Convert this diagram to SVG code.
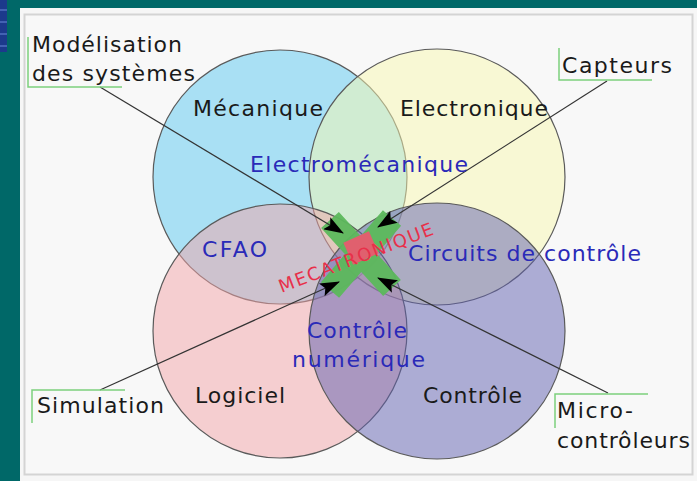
<svg xmlns="http://www.w3.org/2000/svg" width="697" height="481" viewBox="0 0 697 481">
<defs>
<marker id="arr" viewBox="0 0 20 14" refX="19" refY="7" markerWidth="20" markerHeight="14" markerUnits="userSpaceOnUse" orient="auto">
<path d="M0,0 L20,7 L0,14 L4,7 z" fill="#000"/>
</marker>
<style>
.c{stroke:#5a5a5a;stroke-width:1.2;fill-opacity:0.5}
.t{font-family:"DejaVu Sans","Liberation Sans",sans-serif;font-size:22px;fill:#1a1a1a}
.b{fill:#2a2ab8}
.br{fill:none;stroke:#7ccf7c;stroke-width:1.5}
.ln{fill:none;stroke:#333;stroke-width:1.2;marker-end:url(#arr)}
</style>
</defs>
<rect x="0" y="0" width="697" height="481" fill="#006868"/>
<rect x="0" y="0" width="7" height="52" fill="#1c3a8c"/>
<path d="M0,10H7M0,22H7M0,34H7M0,46H7" stroke="#5070c0" stroke-width="1.5"/>
<rect x="20" y="8" width="677" height="473" fill="#f6f6f6"/>
<rect x="24.5" y="14.5" width="668" height="460" fill="#f8f8f8" stroke="#d4d4d4" stroke-width="2"/>

<g id="mecanique"><circle class="c" cx="280" cy="177" r="127" fill="#5ac8f0"/></g>
<g id="electronique"><circle class="c" cx="437" cy="177" r="128" fill="#f7f7b0"/></g>
<g id="logiciel"><circle class="c" cx="280" cy="331" r="127" fill="#f2a4a8"/></g>
<g id="controle"><circle class="c" cx="437" cy="331" r="128" fill="#6060b0"/></g>

<g id="mecatronique">
<path d="M330,220 L392,288 M392,218 L330,290" stroke="#5cb85c" stroke-width="24" fill="none" stroke-opacity="0.95"/>
<rect x="-14" y="-12" width="28" height="24" fill="#e0606e" transform="translate(361,248) rotate(-24)"/>
<text class="t" x="356" y="264" style="font-size:18px;fill:#e8304a" text-anchor="middle" textLength="164" lengthAdjust="spacing" transform="rotate(-21 356 258)">MECATRONIQUE</text>
</g>

<g id="connectors">
<line class="ln" x1="100" y1="87" x2="343" y2="233"/>
<line class="ln" x1="607" y1="81" x2="378" y2="227"/>
<line class="ln" x1="100" y1="390" x2="339" y2="282"/>
<line class="ln" x1="608" y1="393" x2="378" y2="278"/>
</g>

<g id="labels-circles">
<text class="t" x="193" y="116" textLength="130" lengthAdjust="spacing">Mécanique</text>
<text class="t" x="400" y="116" textLength="148" lengthAdjust="spacing">Electronique</text>
<text class="t" x="195" y="403" textLength="90" lengthAdjust="spacing">Logiciel</text>
<text class="t" x="423" y="403" textLength="99" lengthAdjust="spacing">Contrôle</text>
</g>
<g id="labels-overlaps">
<text class="t b" x="250" y="172" textLength="218" lengthAdjust="spacing">Electromécanique</text>
<text class="t b" x="202" y="257" textLength="65" lengthAdjust="spacing">CFAO</text>
<text class="t b" x="408" y="261" textLength="233" lengthAdjust="spacing">Circuits de contrôle</text>
<text class="t b" x="307" y="338" textLength="100" lengthAdjust="spacing">Contrôle</text>
<text class="t b" x="292" y="367" textLength="133" lengthAdjust="spacing">numérique</text>
</g>

<g id="modelisation">
<polyline class="br" points="28,37 28,87 122,87"/>
<text class="t" x="32" y="52" textLength="150" lengthAdjust="spacing">Modélisation</text>
<text class="t" x="32" y="81" textLength="163" lengthAdjust="spacing">des systèmes</text>
</g>
<g id="capteurs">
<polyline class="br" points="559,48 559,80 652,80"/>
<text class="t" x="562" y="73" textLength="110" lengthAdjust="spacing">Capteurs</text>
</g>
<g id="simulation">
<polyline class="br" points="32,423 32,390 125,390"/>
<text class="t" x="37" y="413" textLength="127" lengthAdjust="spacing">Simulation</text>
</g>
<g id="microcontroleurs">
<polyline class="br" points="555,428 555,394 648,394"/>
<text class="t" x="557" y="418" textLength="76" lengthAdjust="spacing">Micro-</text>
<text class="t" x="557" y="448" textLength="133" lengthAdjust="spacing">contrôleurs</text>
</g>
</svg>
